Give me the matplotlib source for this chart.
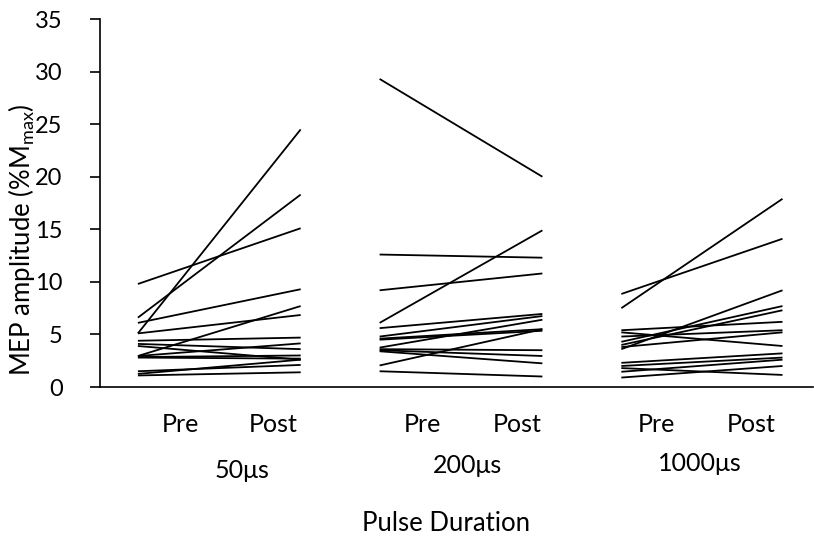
import matplotlib
matplotlib.use("Agg")
import matplotlib.pyplot as plt
from matplotlib.transforms import blended_transform_factory

plt.rcParams['font.family'] = ['Lato', 'DejaVu Sans']
plt.rcParams['mathtext.fontset'] = 'custom'
plt.rcParams['mathtext.rm'] = 'Lato'

groups = ['50μs', '200μs', '1000μs']

# MEP amplitude (%Mmax), one pre/post pair per subject
pre_50 = [9.8, 6.6, 6.1, 5.1, 5.1, 4.4, 4.1, 3.9, 2.95, 2.95, 2.85, 2.8, 1.5, 1.25, 1.1]
post_50 = [15.1, 18.3, 9.3, 24.5, 6.85, 4.7, 3.6, 2.6, 7.7, 4.15, 3.0, 2.7, 2.1, 2.6, 1.4]

pre_200 = [29.3, 12.6, 9.2, 6.1, 5.6, 4.8, 4.6, 4.5, 3.75, 3.6, 3.5, 3.4, 2.05, 1.5]
post_200 = [20.0, 12.3, 10.8, 14.9, 6.95, 6.75, 5.5, 5.35, 6.4, 3.5, 2.95, 2.25, 5.5, 1.0]

pre_1000 = [8.85, 7.5, 5.4, 5.2, 4.8, 4.3, 4.0, 3.8, 3.6, 2.3, 2.0, 1.8, 1.45, 0.9]
post_1000 = [14.1, 17.9, 6.2, 3.9, 5.4, 7.7, 7.3, 5.2, 9.2, 3.2, 2.8, 1.15, 2.6, 2.0]

pre_x = [0.47, 3.47, 6.47]
post_x = [2.49, 5.49, 8.47]

fig = plt.figure(figsize=(8.14, 5.4), dpi=100)
ax = fig.add_axes([0.1229, 0.2833, 0.876, 0.6815])

pairs = [(pre_50, post_50), (pre_200, post_200), (pre_1000, post_1000)]
for g, (pre, post) in enumerate(pairs):
    for a, b in zip(pre, post):
        ax.plot([pre_x[g], post_x[g]], [a, b], color='black', linewidth=1.3,
                solid_capstyle='butt')

ax.set_xlim(0, 8.85)
ax.set_ylim(0, 35)
ax.set_yticks(range(0, 36, 5))
ax.set_xticks([])
ax.spines['top'].set_visible(False)
ax.spines['right'].set_visible(False)
ax.spines['left'].set_linewidth(1.2)
ax.spines['bottom'].set_linewidth(1.2)
ax.tick_params(axis='y', direction='out', length=7, width=1.2, pad=20,
               labelsize=17)

ax.set_ylabel(r'MEP amplitude (%M$_{\mathregular{max}}$)', fontsize=18.5)
ax.yaxis.set_label_coords(-0.088, 0.4)

trans = blended_transform_factory(ax.transData, ax.transAxes)
pre_lab_x = [1.0, 4.0, 6.9]
post_lab_x = [2.15, 5.18, 8.08]
group_lab_x = [1.76, 4.56, 7.45]
group_lab_y = [-0.228, -0.214, -0.209]
for g in range(3):
    ax.text(pre_lab_x[g], -0.103, 'Pre', transform=trans, ha='center',
            va='center', fontsize=18)
    ax.text(post_lab_x[g], -0.103, 'Post', transform=trans, ha='center',
            va='center', fontsize=18)
    ax.text(group_lab_x[g], group_lab_y[g], groups[g], transform=trans,
            ha='center', va='center', fontsize=18)

ax.text(4.3, -0.372, 'Pulse Duration', transform=trans, ha='center',
        va='center', fontsize=18.5)

fig.savefig('out.png', dpi=100)
